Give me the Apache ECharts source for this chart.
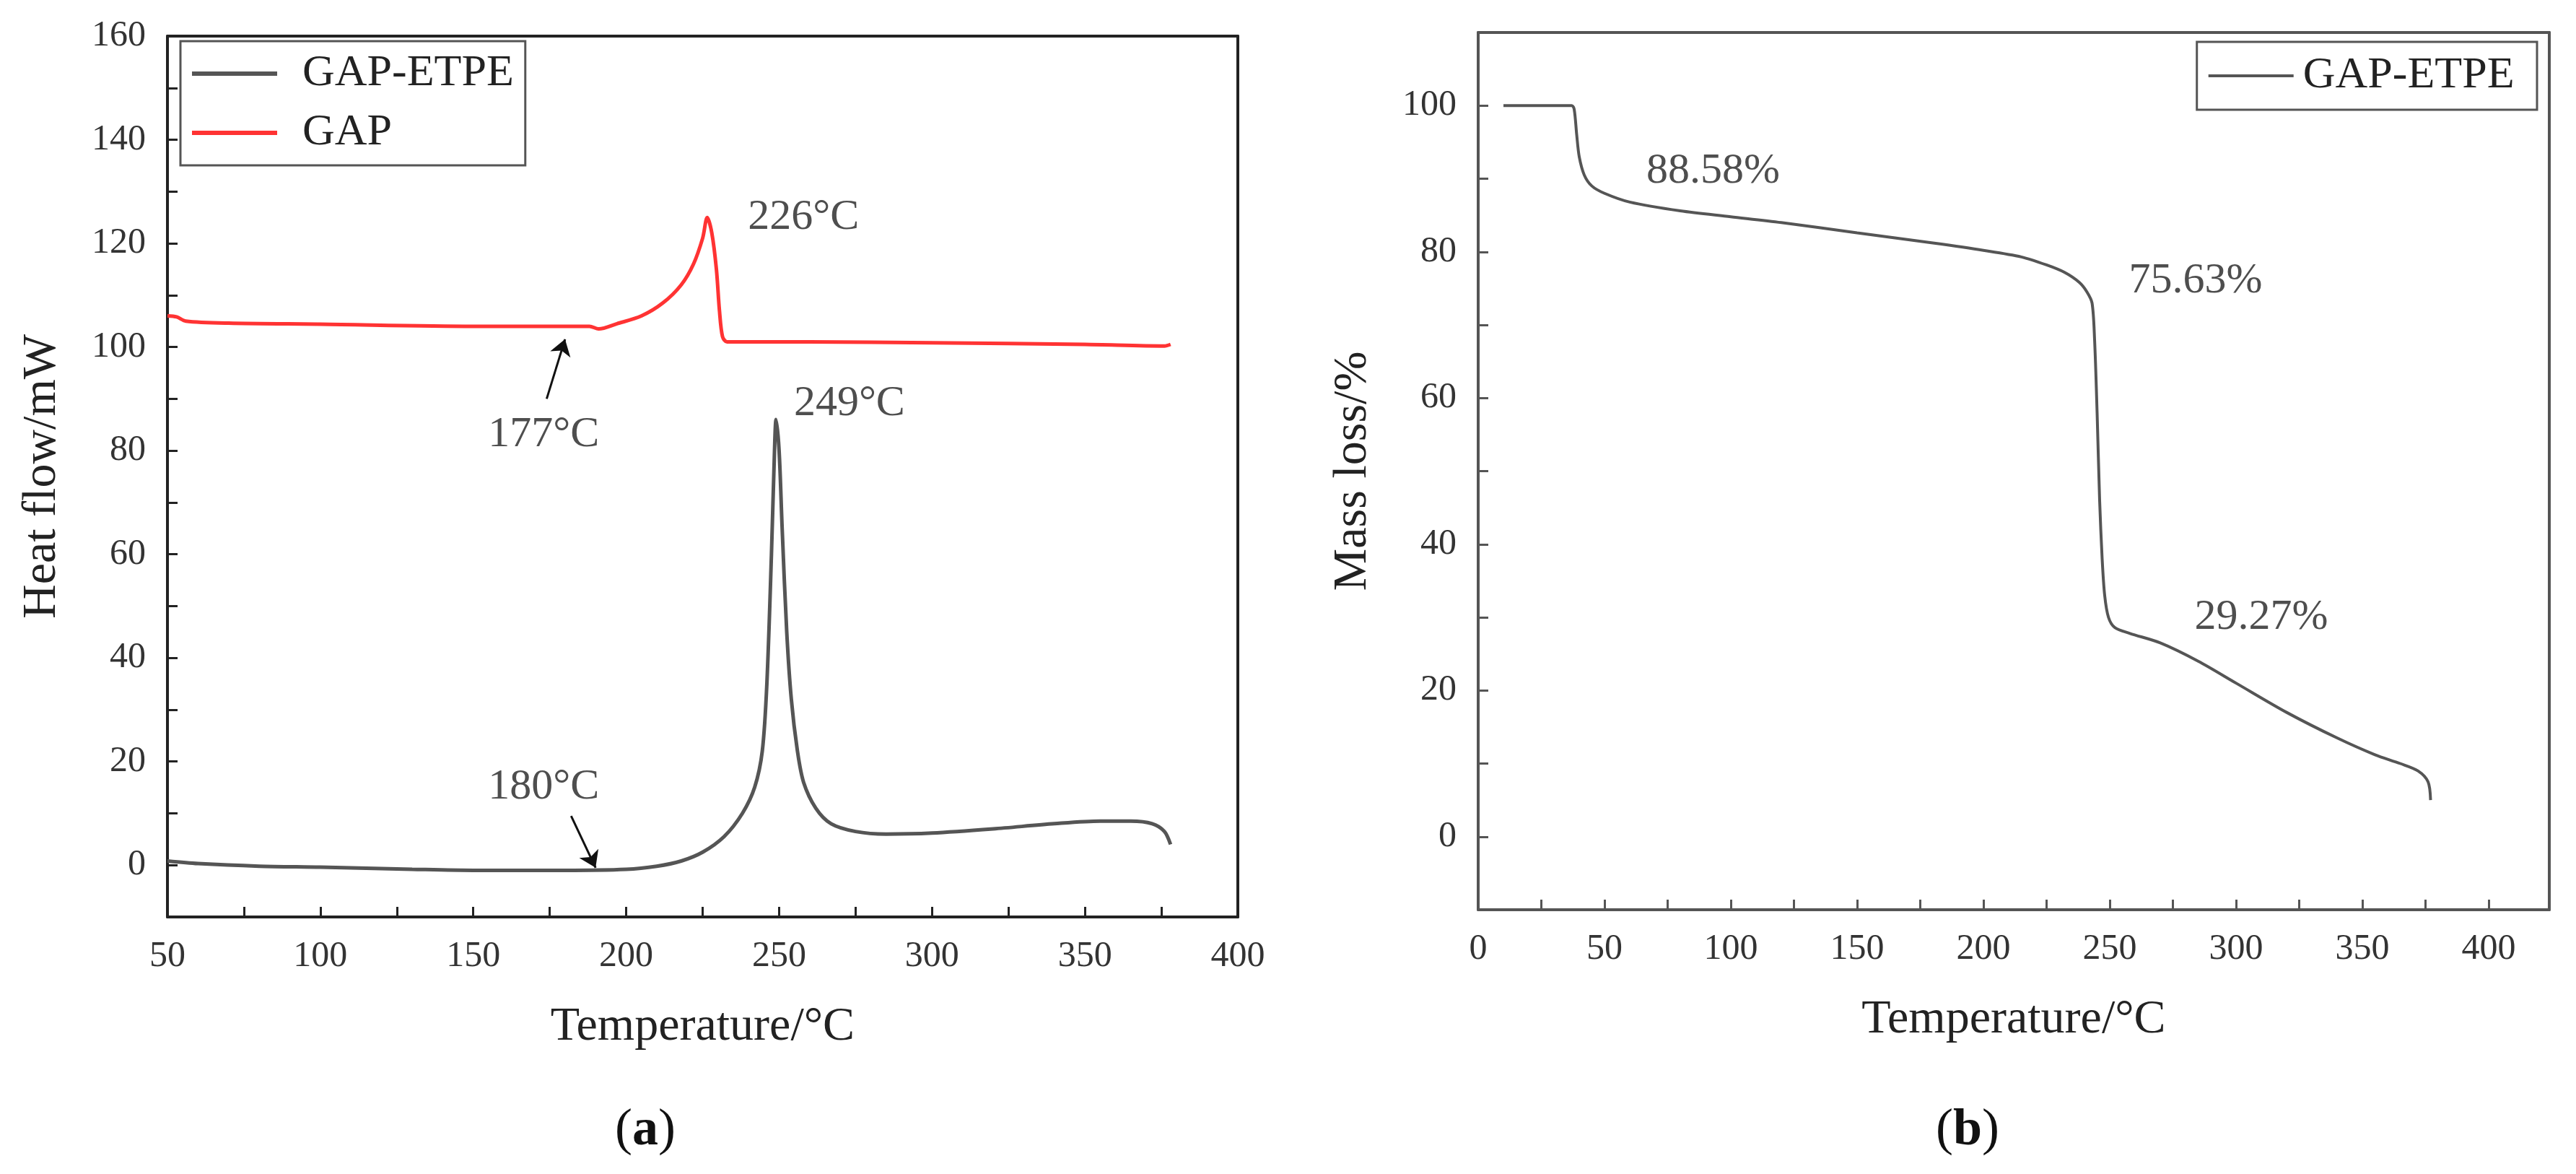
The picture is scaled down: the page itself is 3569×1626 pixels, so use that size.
<!DOCTYPE html>
<html>
<head>
<meta charset="utf-8">
<script src="https://cdn.jsdelivr.net/npm/echarts@6/dist/echarts.min.js"></script>
<style>
html,body{margin:0;padding:0;background:#fff;}
#main{width:3569px;height:1626px;}
</style>
</head>
<body>
<div id="main"></div>
<script>
// (a) DSC curves: [temperature, heat flow]
var dscEtpe = [[50,0.8],[60,0.3],[80,-0.2],[100,-0.4],[130,-0.8],[150,-1],[180,-1],[200,-0.8],[210,-0.2],[218,0.8],[225,2.5],[232,5.5],[238,10],[242,15],[244.5,22],[246,35],[247.5,60],[248.5,80],[249,86],[250,80],[251,65],[252.5,45],[254,32],[256,22],[258,16],[262,11],[267,8],[275,6.5],[285,6],[300,6.2],[320,7],[340,8],[355,8.5],[365,8.5],[372,8],[376,6.5],[378,4]];
var dscGap = [[50,106],[53,105.8],[56,105],[70,104.6],[100,104.4],[150,104],[188,104],[191,103.5],[197,104.5],[205,106],[212,108.5],[218,112],[222,116],[225,121],[226.5,125],[228,122],[229.5,115],[230.5,107],[231.5,102],[233,101],[260,101],[300,100.8],[350,100.5],[376,100.2],[378,100.5]];
// (b) TGA curve: [temperature, mass %]
var tgaEtpe = [[10,100],[37,100],[38,99.5],[39,96],[40,93],[42,90.5],[45,89],[50,88],[60,86.8],[80,85.6],[100,84.8],[120,84],[150,82.6],[180,81.2],[200,80.2],[215,79.3],[225,78.2],[232,77.2],[238,75.8],[241,74.5],[243,73],[244,68],[245,58],[246,46],[247,38],[248,33],[249.5,30],[252,28.6],[258,27.8],[270,26.5],[285,24],[300,21],[320,17],[340,13.5],[355,11.2],[365,10],[372,9],[376,7.5],[377,5]];

var dscLabels = [[258,125,'226°C'],[273,89,'249°C'],[173,83,'177°C'],[173,15,'180°C']];
var tgaLabels = [[93,91,'88.58%'],[284,76,'75.63%'],[310,30,'29.27%']];
var dscArrows = [[[174,90],[180,101.5]],[[182,9.5],[190,-0.5]]];

var font = 'Liberation Serif';
function axisX(idx, min, max, showLabel, color, pos) {
	return {
		type: 'value', gridIndex: idx, min: min, max: max, interval: 25, position: pos,
		axisLine: {show: true, onZero: false, lineStyle: {color: color, width: 4}},
		axisTick: {show: showLabel, inside: true, length: 14, lineStyle: {color: color, width: 3}},
		splitLine: {show: false},
		axisLabel: {show: showLabel, fontFamily: font, fontSize: 50, color: '#333', margin: 30,
			formatter: function (v) { return (v % 50 === 0 && v <= 400) ? String(v) : ''; }},
		name: showLabel ? 'Temperature/°C' : '', nameLocation: 'middle', nameGap: 120,
		nameTextStyle: {fontFamily: font, fontSize: 66, color: '#222'}
	};
}
function axisY(idx, min, max, showLabel, color, pos, name) {
	return {
		type: 'value', gridIndex: idx, min: min, max: max, interval: 10, position: pos,
		axisLine: {show: true, onZero: false, lineStyle: {color: color, width: 4}},
		axisTick: {show: showLabel, inside: true, length: 14, lineStyle: {color: color, width: 3}},
		splitLine: {show: false},
		axisLabel: {show: showLabel, fontFamily: font, fontSize: 50, color: '#333', margin: 30,
			formatter: function (v) { return (v % 20 === 0 && v >= 0 && v <= 160) ? String(v) : ''; }},
		name: showLabel ? name : '', nameLocation: 'middle', nameGap: 140,
		nameTextStyle: {fontFamily: font, fontSize: 66, color: '#222'}
	};
}
function labelSeries(data, xi) {
	return {
		type: 'scatter', xAxisIndex: xi, yAxisIndex: xi, symbolSize: 0, silent: true,
		data: data.map(function (d) { return {value: [d[0], d[1]], label: {formatter: d[2]}}; }),
		label: {show: true, position: 'inside', fontFamily: font, fontSize: 60, color: '#222'}
	};
}

var chart = echarts.init(document.getElementById('main'));
var option = {
	backgroundColor: '#fff',
	animation: false,
	grid: [
		{left: 232, top: 50, width: 1483, height: 1220},
		{left: 2048, top: 45, width: 1484, height: 1215}
	],
	legend: [
		{data: ['GAP-ETPE', 'GAP'], left: 250, top: 57, orient: 'vertical', itemWidth: 118, itemHeight: 6, itemGap: 20,
			borderColor: '#555', borderWidth: 3, padding: [14, 16, 14, 16], icon: 'rect',
			textStyle: {fontFamily: font, fontSize: 62, color: '#222', padding: [0, 0, 0, 30]}},
		{data: [{name: 'GAP-ETPE ', icon: 'rect'}], right: 3569 - 3515, top: 58, itemWidth: 118, itemHeight: 4,
			borderColor: '#555', borderWidth: 3, padding: [16, 16, 16, 16],
			textStyle: {fontFamily: font, fontSize: 62, color: '#222', padding: [0, 0, 0, 8]}}
	],
	xAxis: [axisX(0, 50, 400, true, '#222', 'bottom'), axisX(1, 0, 424, true, '#555', 'bottom'),
		axisX(0, 50, 400, false, '#222', 'top'), axisX(1, 0, 424, false, '#555', 'top')],
	yAxis: [axisY(0, -10, 160, true, '#222', 'left', 'Heat flow/mW'), axisY(1, -10, 110, true, '#555', 'left', 'Mass loss/%'),
		axisY(0, -10, 160, false, '#222', 'right'), axisY(1, -10, 110, false, '#555', 'right')],
	series: [
		{name: 'GAP-ETPE', type: 'line', xAxisIndex: 0, yAxisIndex: 0, data: dscEtpe, showSymbol: false, smooth: 0.3,
			lineStyle: {color: '#555', width: 5}, itemStyle: {color: '#555'},
			markLine: {silent: true, symbol: ['none', 'arrow'], symbolSize: 22, label: {show: false},
				lineStyle: {color: '#111', width: 3, type: 'solid'},
				data: dscArrows.map(function (a) { return [{coord: a[0]}, {coord: a[1]}]; })}},
		{name: 'GAP', type: 'line', xAxisIndex: 0, yAxisIndex: 0, data: dscGap, showSymbol: false, smooth: 0.3,
			lineStyle: {color: '#ff3333', width: 5}, itemStyle: {color: '#ff3333'}},
		{name: 'GAP-ETPE ', type: 'line', xAxisIndex: 1, yAxisIndex: 1, data: tgaEtpe, showSymbol: false, smooth: 0.3,
			lineStyle: {color: '#555', width: 4}, itemStyle: {color: '#555'}},
		labelSeries(dscLabels, 0),
		labelSeries(tgaLabels, 1)
	],
	graphic: [
		{type: 'text', left: 852, top: 1530, style: {rich: {p: {fontFamily: font, fontSize: 72, fill: '#111'}, b: {fontFamily: font, fontSize: 72, fontWeight: 'bold', fill: '#111'}}, text: '{p|(}{b|a}{p|)}'}},
		{type: 'text', left: 2682, top: 1530, style: {rich: {p: {fontFamily: font, fontSize: 72, fill: '#111'}, b: {fontFamily: font, fontSize: 72, fontWeight: 'bold', fill: '#111'}}, text: '{p|(}{b|b}{p|)}'}}
	]
};
chart.setOption(option);
</script>
</body>
</html>
